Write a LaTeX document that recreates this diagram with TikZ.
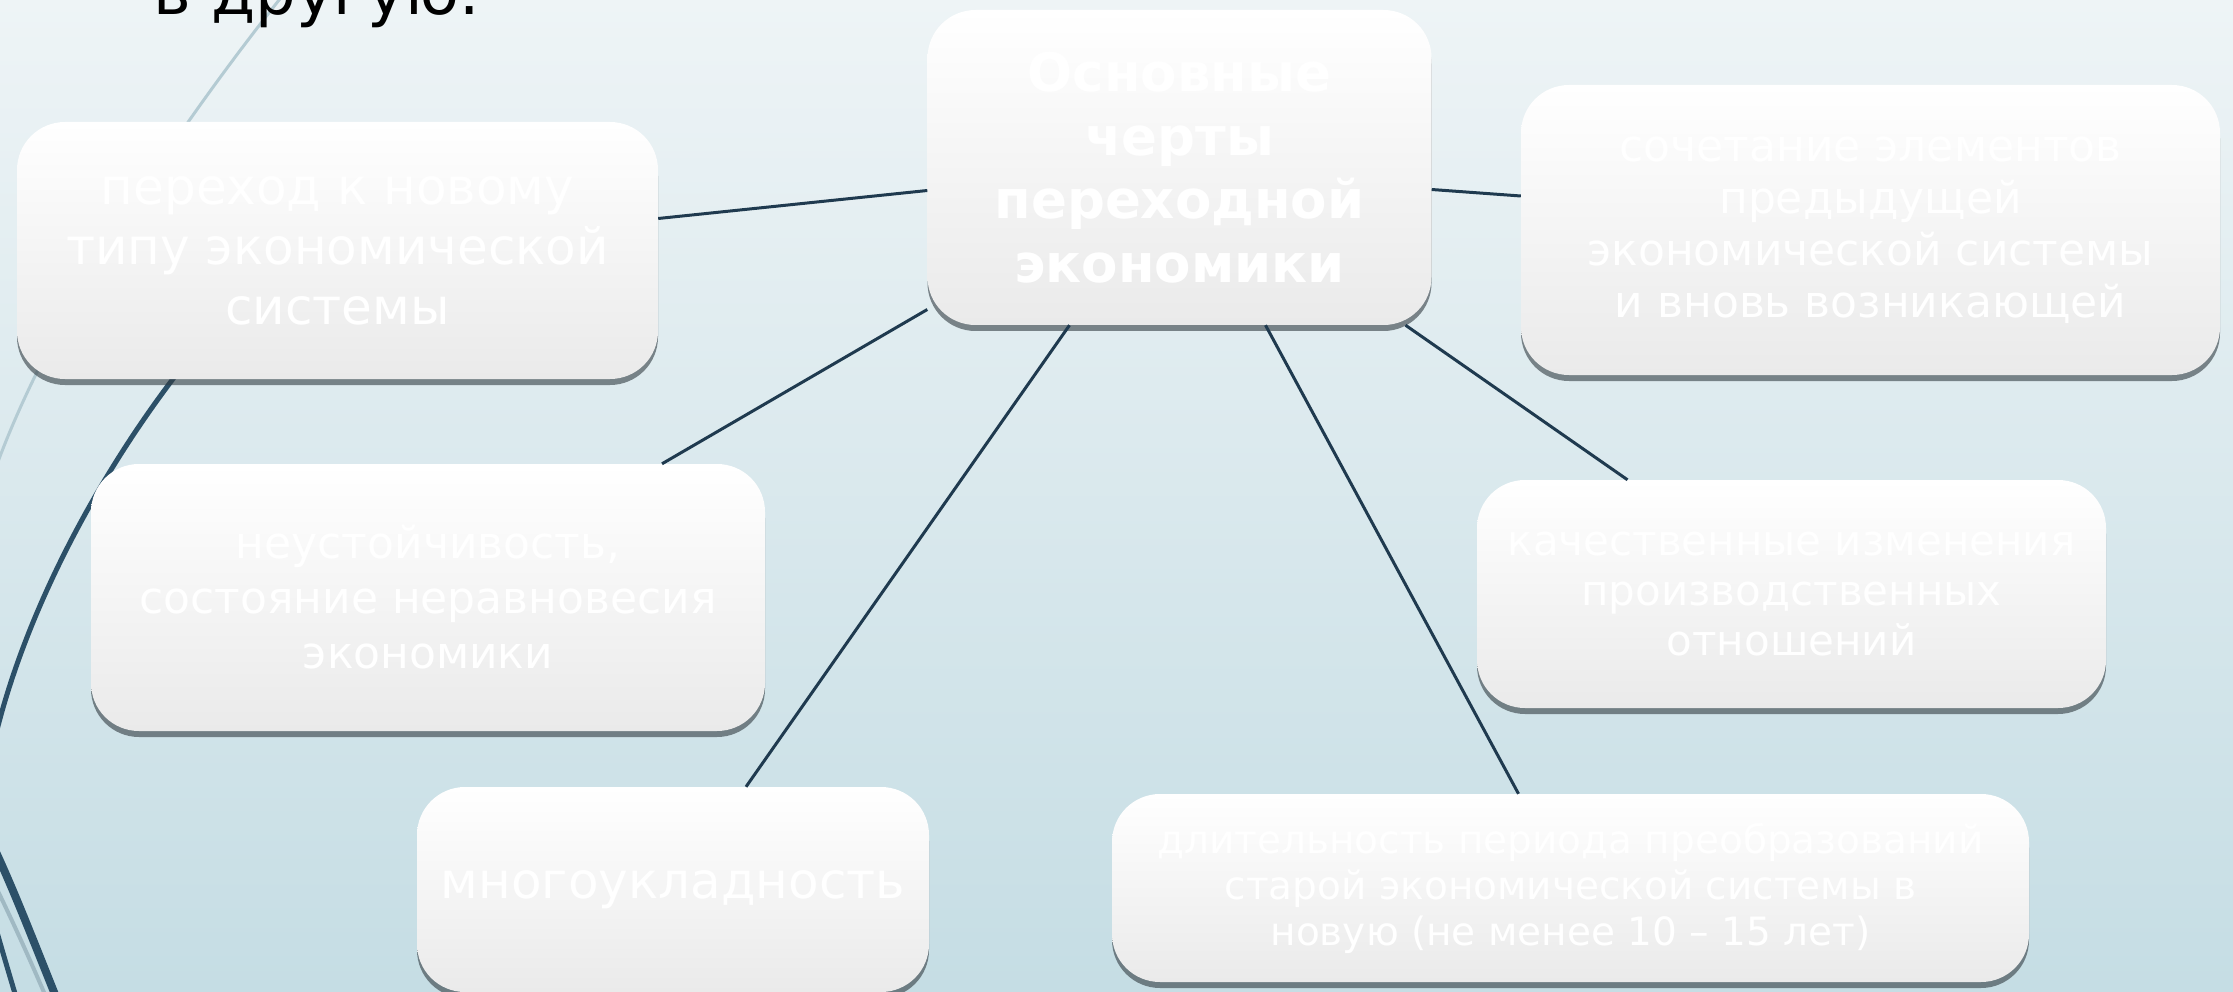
\documentclass[tikz,border=0pt]{standalone}
\usepackage{fontspec}
\setmainfont{DejaVu Sans}
\usetikzlibrary{shadows}
\definecolor{bgtop}{RGB}{238,244,246}
\definecolor{bgbot}{RGB}{197,221,228}
\definecolor{linkc}{RGB}{31,58,79}
\definecolor{darkarc}{RGB}{44,80,104}
\definecolor{lightarc}{RGB}{180,203,211}
\definecolor{boxbot}{RGB}{234,234,234}
\definecolor{shadowc}{RGB}{50,60,66}
\begin{document}
\begin{tikzpicture}[x=1pt,y=-1pt,
  card/.style={rounded corners=48pt, top color=white, bottom color=boxbot, draw=none,
    text=white, align=center, inner sep=0pt,
    drop shadow={shadow xshift=0pt, shadow yshift=-6pt, opacity=0.6, fill=shadowc}},
  link/.style={draw=linkc, line width=3pt},
  arcdark/.style={draw=darkarc, line width=5pt},
  arclight/.style={draw=lightarc, line width=3pt},
]
\useasboundingbox (0,0) rectangle (2233,992);
\clip (0,0) rectangle (2233,992);
\fill[top color=bgtop, bottom color=bgbot] (0,0) rectangle (2233,992);

% decorative curves
\draw[arclight] (283,-5) .. controls (160,150) and (45,330) .. (-5,470);
\draw[arcdark] (230,310) .. controls (130,420) and (35,580) .. (-3,730);
\draw[arcdark] (-5,925) .. controls (2,950) and (8,970) .. (16,997);
\draw[draw=lightarc!85!darkarc, line width=4pt] (-5,885) .. controls (12,920) and (28,955) .. (46,997);
\draw[draw=darkarc, line width=8pt] (-5,850) .. controls (15,893) and (35,945) .. (56,997);

% title
\node[anchor=base west, inner sep=0pt, text=black, font=\fontsize{64}{70}\selectfont] (title) at (153,15) {в другую.};

% boxes
\node[card, minimum width=504pt, minimum height=315pt, font=\bfseries\fontsize{53}{63.5}\selectfont] (c) at (1179.5,167.5)
  {Основные\\черты\\переходной\\экономики};
\node[card, minimum width=641pt, minimum height=257pt, font=\fontsize{50}{60}\selectfont] (a) at (337.5,250.5)
  {переход к новому\\типу экономической\\системы};
\node[card, minimum width=699pt, minimum height=290pt, font=\fontsize{44}{52}\selectfont] (b) at (1870.5,230)
  {сочетание элементов\\предыдущей\\экономической системы\\и вновь возникающей};
\node[card, minimum width=674pt, minimum height=267pt, font=\fontsize{44}{55}\selectfont] (d) at (428,597.5)
  {неустойчивость,\\состояние неравновесия\\экономики};
\node[card, minimum width=629pt, minimum height=228pt, font=\fontsize{42}{50}\selectfont] (e) at (1791.5,594)
  {качественные изменения\\производственных\\отношений};
\node[card, minimum width=512pt, minimum height=205pt, font=\fontsize{50}{60}\selectfont] (f) at (673,889.5)
  {многоукладность};
\node[card, minimum width=917pt, minimum height=188pt, font=\fontsize{39}{46}\selectfont] (g) at (1570.5,888)
  {длительность периода преобразований\\старой экономической системы в\\новую (не менее 10 – 15 лет)};

% connectors
\draw[link] ([yshift=-23pt]c.west) -- ([yshift=32pt]a.east);
\draw[link] ([yshift=-22pt]c.east) -- ([yshift=34pt]b.west);
\draw[link] ([yshift=-142pt]c.west) -- ([xshift=234pt]d.north);
\draw[link] ([xshift=-110pt]c.south) -- ([xshift=73pt]f.north);
\draw[link] ([xshift=86pt]c.south) -- ([xshift=-52pt]g.north);
\draw[link] ([xshift=226pt]c.south) -- ([xshift=-164pt]e.north);
\end{tikzpicture}
\end{document}
